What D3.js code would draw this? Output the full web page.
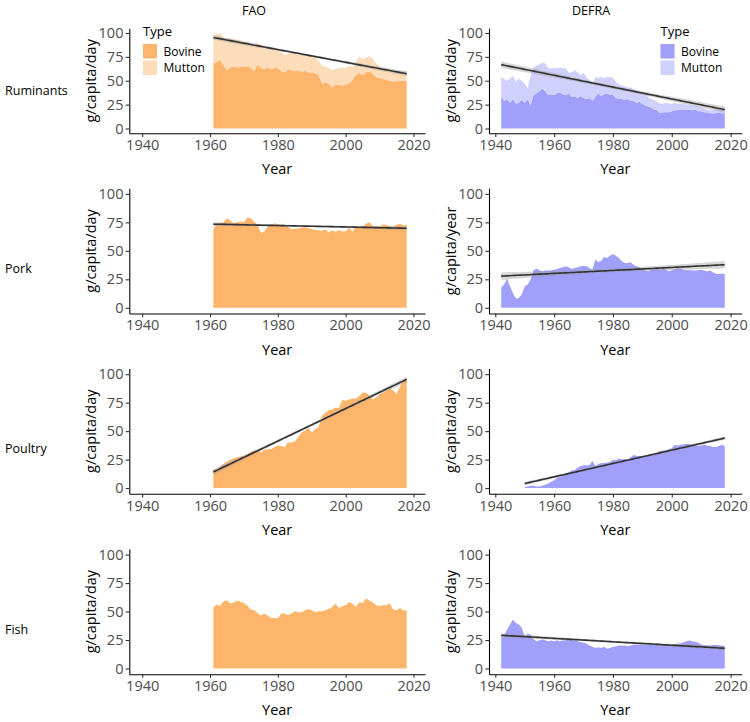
<!DOCTYPE html>
<html><head><meta charset="utf-8">
<script src="https://cdn.jsdelivr.net/npm/d3@7"></script>
<style>
body{margin:0;background:#fff;}
svg{display:block;font-family:'Open Sans',sans-serif;}
</style>
</head><body>
<svg id="c" width="750" height="722"></svg>
<script>
// ---------------- DATA ----------------
const faoYears = d3.range(1961, 2019);
const defraYears = d3.range(1942, 2019);
const defraPoultryYears = d3.range(1950, 2019);
const xTicks = [1940, 1960, 1980, 2000, 2020];
const yTicks = [0, 25, 50, 75, 100];
const rowLabels = ["Ruminants", "Pork", "Poultry", "Fish"];
const colTitles = ["FAO", "DEFRA"];
const typeLabels = ["Bovine", "Mutton"];

const faoBovine = [68,70,72,66,61,64,65,64,65,65, 65,64,60,67,64,62,64,62,64,63,
  60,59,62,61,60,61,59,61,59,58, 58,56,47,48,47,43,46,46,45,46,
  47,51,56,58,56,59,60,57,54,53, 52,51,50,49,50,50,50,50];
const faoMutton = [29,29,28,29,33,31,28,29,27,25, 26,25,25,22,24,21,21,22,19,18,
  20,18,16,19,18,16,19,17,17,18, 17,15,19,17,16,18,16,17,19,17,
  19,13,14,17,17,15,16,16,14,12, 11,11,11,11,10,10,10,10];
const defraBovine = [33,29,30,27,31,26,27,30,27,31, 24,35,37,39,42,39,35,36,35,37,
  38,36,35,37,33,34,32,34,32,31, 32,29,33,37,34,36,37,35,35,32,
  31,31,30,31,29,29,27,28,26,24, 23,22,20,19,16,17,17,17,18,19,
  19,20,20,20,20,19,20,18,18,17, 17,16,16,16,17,16,16];
const defraMutton = [21,23,20,25,24,23,25,20,20,11, 32,29,29,28,27,29,28,27,28,26,
  26,27,28,21,26,27,27,22,26,23, 19,16,21,16,20,17,17,19,18,17,
  15,14,14,12,14,12,13,11,12,13, 10,9,10,9,10,9,10,9,8,8,
  7,6,6,5,5,5,4,5,4,4, 3,3,3,4,3,4,3];
const faoPork = [69,74.3,74.3,75,78.7,76.7,74.3,75,75.8,75.2, 79.3,78.7,75.8,72.9,65.6,67,71.4,72.9,74.3,73.5,
  72,71.4,71.4,69,69.7,69.7,70.6,70.8,70,69, 68.5,68,67.6,69,66.2,68,66.8,68,67,67.3,
  70,67,71.4,70.6,71.4,73.8,75,72,71.4,71.4, 73.2,72.9,71.4,71.4,72.9,73.8,72.3,72.9];
const defraPork = [17.5,20.4,25.7,19,13,8.2,8.7,11.7,19,20.4, 24.8,33,34.4,33,32,32.7,32.7,33,33.5,34.1,
  35,35.6,36.4,35.6,34.1,35,35.6,36.4,37,36.4, 35,33.5,42.3,40,41.4,44.6,43.7,45.8,47.2,45.8,
  43.7,40.8,39.4,39.4,40,37.9,36.4,35.6,33.5,32.7, 32,33.5,34.1,34.1,33.5,34.4,33.5,32,33,34.1,
  34.7,34.4,33.5,33,33,33,32.7,33,33.5,32.7, 32,32.7,31.2,30,29.7,30,30];
const faoPoultry = [16.6,16,19,21.3,23.3,24.8,26.2,27,27.7,28.3, 29.2,32,33,33.5,31.2,33.5,34.1,34.4,35.9,37.3,
  37,35.9,40,40,40.8,44.6,48.7,50.4,53,48.7, 51.6,53.4,63.3,66.2,68.5,69,70.8,70,77.3,76.7,
  77.8,78.7,78.7,80.8,84,83.7,81.6,77.8,79.6,82.2, 83.7,85.4,87.5,86,82.5,88.9,94.8,96.2];
const defraPoultry = [1,1.5,2,2,1.5,1.5,2,3,4,5.5, 7,9,10,11,12.5,14,15.5,16,18,19.5,
  20,20,20,24,19.5,21,22,22,22.5,23, 25,24.5,26,25,25.5,25,27,29,28.5,28,
  28,28.5,29,29.5,30,31,32.5,33,33,34, 35,38,37.5,38,38.5,39,38.5,38,37.5,37,
  37.5,38,37.5,37,36,36,37,38,37];
const faoFish = [54,56,55,59,60,57,58,59.6,58.5,57.6, 55.3,51.8,51.2,48.8,46.5,48.2,46.5,44.4,44.4,43.9,
  48.2,48.2,46.8,48.2,50.3,49.4,49.4,50.9,52.3,51.2, 49.4,50.3,50.3,51.2,52.3,53.8,57,53.2,54.7,55.6,
  58.2,57,54,58.2,57.6,61.4,59.6,58.2,55.6,54.7, 55.6,55.6,57,51.8,51.2,53.2,50.9,51.2];
const defraFish = [28.4,28.4,34.2,38.6,43,40,38.6,35.7,28.4,30.7, 29.8,26,24,24.9,25.4,24.9,24,24.6,24,24.9,
  24,24.6,24.9,25.4,24.9,24.6,24,23.1,22.5,21.9, 20.2,19,18.1,18.7,18.1,19,17.3,18.1,19,19.6,
  20.2,20.2,20.2,19.6,20.2,20.8,21,21,20.8,20.8, 20.5,20.8,20.5,20.8,20.5,20.8,21,20.8,20.2,21.6,
  21.9,21.9,23.1,24,24.6,24,23.4,22.5,21,20.5, 20.2,20.2,20.5,20.8,20.5,20.2,19.6];

// ---------------- STYLE / LAYOUT ----------------
const orange = ["#FDB56C", "#FDDCB9"];
const blue = ["#A0A0FA", "#D0D0FC"];
const cols = [
  {x0:129.3, x1:425, d0:1936.2, d1:2023.4, titleX:254, ylabX:91},
  {x0:489, x1:741.7, d0:1937.86, d1:2023.77, titleX:591, ylabX:451}
];
const rows = [
  {yb:133.3, yt:28.3, labelY:91},
  {yb:313.5, yt:188.3, labelY:269},
  {yb:493.8, yt:368.6, labelY:449},
  {yb:674.2, yt:549, labelY:630}
];

const panels = [
  {r:0,c:0, years:faoYears, series:[faoBovine, faoMutton], colors:orange, fit:true, ylab:"g/capita/day", legend:{x:143}},
  {r:0,c:1, years:defraYears, series:[defraBovine, defraMutton], colors:blue, fit:true, ylab:"g/capita/day", legend:{x:660.5}},
  {r:1,c:0, years:faoYears, series:[faoPork], colors:orange, fit:true, ylab:"g/capita/day"},
  {r:1,c:1, years:defraYears, series:[defraPork], colors:blue, fit:true, ylab:"g/capita/year"},
  {r:2,c:0, years:faoYears, series:[faoPoultry], colors:orange, fit:true, ylab:"g/capita/day"},
  {r:2,c:1, years:defraPoultryYears, series:[defraPoultry], colors:blue, fit:true, ylab:"g/capita/day"},
  {r:3,c:0, years:faoYears, series:[faoFish], colors:orange, fit:false, ylab:"g/capita/day"},
  {r:3,c:1, years:defraYears, series:[defraFish], colors:blue, fit:true, ylab:"g/capita/day"}
];

const svg = d3.select("#c");
const tickCol = "#4D4D4D";

function lmFit(xs, ys) {
  const n = xs.length, mx = d3.mean(xs), my = d3.mean(ys);
  let sxx = 0, sxy = 0;
  for (let i = 0; i < n; i++) { sxx += (xs[i]-mx)**2; sxy += (xs[i]-mx)*(ys[i]-my); }
  const b = sxy/sxx, a = my - b*mx;
  let ss = 0;
  for (let i = 0; i < n; i++) ss += (ys[i] - (a + b*xs[i]))**2;
  const s = Math.sqrt(ss/(n-2));
  const t = 1.995;
  const grid = d3.range(0, 81).map(k => xs[0] + (xs[n-1]-xs[0])*k/80);
  return grid.map(x => {
    const f = a + b*x;
    const se = s*Math.sqrt(1/n + (x-mx)**2/sxx);
    return {x, f, lo: f - t*se, hi: f + t*se};
  });
}

panels.forEach(p => {
  const col = cols[p.c], row = rows[p.r];
  const x = d3.scaleLinear().domain([col.d0, col.d1]).range([col.x0, col.x1]);
  const y = d3.scaleLinear().domain([-5, 104.9]).range([row.yb, row.yt]);
  const g = svg.append("g");

  // stacked areas
  const keys = p.series.map((_, i) => i);
  const table = p.years.map((yr, i) => { const o = {year: yr}; keys.forEach(k => o[k] = p.series[k][i]); return o; });
  const stacked = d3.stack().keys(keys)(table);
  const area = d3.area().x(d => x(d.data.year)).y0(d => y(d[0])).y1(d => y(d[1]));
  g.selectAll("path.area").data(stacked).join("path")
    .attr("class", "area").attr("d", area).attr("fill", (d, i) => p.colors[i]);

  // regression
  if (p.fit) {
    const totals = table.map(d => keys.reduce((s, k) => s + d[k], 0));
    const fit = lmFit(p.years, totals);
    g.append("path").datum(fit)
      .attr("d", d3.area().x(d => x(d.x)).y0(d => y(d.lo)).y1(d => y(d.hi)))
      .attr("fill", "#999999").attr("fill-opacity", 0.4);
    g.append("path").datum(fit)
      .attr("d", d3.line().x(d => x(d.x)).y(d => y(d.f)))
      .attr("fill", "none").attr("stroke", "#333333").attr("stroke-width", 1.6);
  }

  // axes
  const xa = g.append("g").attr("transform", `translate(0,${row.yb})`)
    .call(d3.axisBottom(x).tickValues(xTicks).tickFormat(d3.format("d")).tickSize(3.67).tickSizeOuter(0).tickPadding(2.8));
  const ya = g.append("g").attr("transform", `translate(${col.x0},0)`)
    .call(d3.axisLeft(y).tickValues(yTicks).tickSize(3.67).tickSizeOuter(0).tickPadding(2.2));
  [xa, ya].forEach(a => {
    a.select(".domain").attr("stroke", "#000").attr("stroke-width", 1.1);
    a.selectAll(".tick line").attr("stroke", "#333").attr("stroke-width", 1.1);
    a.selectAll(".tick text").attr("fill", tickCol).attr("font-size", 14.5).attr("font-family", "'Open Sans',sans-serif");
  });

  // axis titles
  g.append("text").attr("x", (col.x0 + col.x1)/2).attr("y", row.yb + 41)
    .attr("text-anchor", "middle").attr("font-size", 14.5).attr("fill", "#000").text("Year");
  g.append("text").attr("transform", `translate(${col.ylabX},${(row.yt + row.yb)/2}) rotate(-90)`)
    .attr("text-anchor", "middle").attr("dy", "0.35em").attr("font-size", 14.5).attr("fill", "#000").text(p.ylab);

  // legend
  if (p.legend) {
    const lx = p.legend.x;
    g.append("text").attr("x", lx).attr("y", 31.5).attr("dy", "0.35em")
      .attr("font-size", 13).attr("fill", "#000").text("Type");
    typeLabels.forEach((t, i) => {
      g.append("rect").attr("x", lx).attr("y", 44 + i*16.5).attr("width", 14).attr("height", 14.5)
        .attr("fill", p.colors[i]);
      g.append("text").attr("x", lx + 20.5).attr("y", 51.3 + i*16.5).attr("dy", "0.35em")
        .attr("font-size", 12).attr("fill", "#000").text(t);
    });
  }
});

// column titles
cols.forEach((col, i) => {
  svg.append("text").attr("x", col.titleX).attr("y", 10.7).attr("dy", "0.35em")
    .attr("text-anchor", "middle").attr("font-size", 12.5).attr("fill", "#000").text(colTitles[i]);
});
// row labels
rows.forEach((row, i) => {
  svg.append("text").attr("x", 5).attr("y", row.labelY).attr("dy", "0.35em")
    .attr("font-size", 12.5).attr("fill", "#000").text(rowLabels[i]);
});
</script>
</body></html>
